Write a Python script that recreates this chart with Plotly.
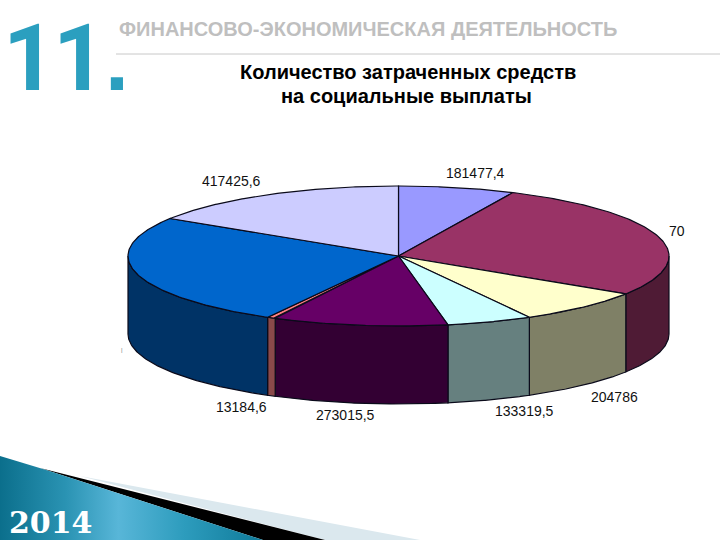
import numpy as np
import plotly.graph_objects as go

# ---- data (values in clockwise order from 12 o'clock)
slice_names = ["a", "b", "c", "d", "e", "f", "g", "h"]
slice_values = [181477.4, 709000.0, 204786.0, 133319.5, 273015.5, 13184.6, 677794.0, 417425.6]
top_colors = ["#9999ff", "#993366", "#ffffcc", "#ccffff", "#660066", "#ff8080", "#0066cc", "#ccccff"]
side_colors = ["#4d4d80", "#4f1b35", "#7f8066", "#66807f", "#330033", "#8a4a4a", "#003366", "#666680"]
label_texts = ["181477,4", "70", "204786", "133319,5", "273015,5", "13184,6", "", "417425,6"]
label_x = [475, 677, 614, 524, 345, 241, 122, 231]
label_y = [173, 231, 397, 411, 415, 407, 350, 181]

title_lines = ["Количество затраченных средств", "на социальные выплаты"]
header = "ФИНАНСОВО-ЭКОНОМИЧЕСКАЯ ДЕЯТЕЛЬНОСТЬ"

CX, CY, RX, RY, DEPTH = 398.5, 256.0, 270.5, 70.0, 78.0


def ex(t):
    return CX + RX * np.sin(np.radians(t))


def ey(t):
    return CY - RY * np.cos(np.radians(t))


fig = go.Figure()

# decorative band, bottom-left
fig.add_trace(go.Scatter(x=[80, 420, 325], y=[476, 540, 540], fill="toself", fillcolor="#dbe8ee",
                         mode="lines", line=dict(width=0), hoverinfo="skip", showlegend=False))
fig.add_trace(go.Scatter(x=[40, 325, 263], y=[468, 540, 540], fill="toself", fillcolor="#000000",
                         mode="lines", line=dict(width=0), hoverinfo="skip", showlegend=False))
fig.add_trace(go.Scatter(x=[0, 43, 263, 0], y=[456, 469, 540, 540], fill="toself",
                         mode="lines", line=dict(width=0), hoverinfo="skip", showlegend=False,
                         fillgradient=dict(type="horizontal", colorscale=[
                             [0.0, "#0b6f8c"], [0.25, "#2a93b3"], [0.45, "#58b6d8"],
                             [0.7, "#2d9cbd"], [1.0, "#0f7a99"]])))

angles = np.cumsum([0.0] + [v / sum(slice_values) * 360.0 for v in slice_values])

# outer walls: only the front half (90..270 degrees) can be seen
for i in range(len(slice_values)):
    a0, a1 = max(angles[i], 90.0), min(angles[i + 1], 270.0)
    if a1 <= a0:
        continue
    t = np.linspace(a0, a1, 80)
    xs = np.r_[ex(t), ex(t[::-1]), ex(t[0])]
    ys = np.r_[ey(t), ey(t[::-1]) + DEPTH, ey(t[0])]
    fig.add_trace(go.Scatter(x=xs, y=ys, fill="toself", fillcolor=side_colors[i], mode="lines",
                             line=dict(color="#0a0a1a", width=1.2), hoverinfo="skip",
                             showlegend=False, name=slice_names[i]))

# top faces
for i in range(len(slice_values)):
    t = np.linspace(angles[i], angles[i + 1], 120)
    xs = np.r_[CX, ex(t), CX]
    ys = np.r_[CY, ey(t), CY]
    fig.add_trace(go.Scatter(x=xs, y=ys, fill="toself", fillcolor=top_colors[i], mode="lines",
                             line=dict(color="#0a0a1a", width=1.2), hoverinfo="skip",
                             showlegend=False, name=slice_names[i]))

ann = []
SANS = "Liberation Sans"


def text(x, y, s, size, color, font=SANS, anchor="center"):
    ann.append(dict(x=x, y=y, text=s, showarrow=False, xref="x", yref="y", xanchor=anchor,
                    yanchor="middle", font=dict(family=font, size=size, color=color)))


for s, x, y in zip(label_texts, label_x, label_y):
    if s:
        text(x, y, s, 14, "#111111")
text(122, 350, "|", 6, "#777777")

text(29, 58, "<b>1</b>", 92, "#2b9fbf", font="Roboto")
text(79, 58, "<b>1</b>", 92, "#2b9fbf", font="Roboto")
text(117, 60, "<b>.</b>", 86, "#2b9fbf")
text(117, 29, "<b>%s</b>" % header, 20, "#bfbfbf", anchor="left")
text(408, 72, "<b>%s</b>" % title_lines[0], 20, "#000000")
text(406, 96, "<b>%s</b>" % title_lines[1], 20, "#000000")
text(7, 522.5, "<b>2014</b>", 30, "#ffffff", font="DejaVu Serif", anchor="left")

fig.update_layout(
    width=720, height=540, margin=dict(l=0, r=0, t=0, b=0),
    paper_bgcolor="#ffffff", plot_bgcolor="#ffffff", annotations=ann, showlegend=False,
    xaxis=dict(range=[0, 720], visible=False, fixedrange=True),
    yaxis=dict(range=[540, 0], visible=False, fixedrange=True),
    shapes=[dict(type="line", xref="x", yref="y", x0=116, x1=720, y0=54, y1=54,
                 line=dict(color="#c8c8c8", width=1))],
)

fig.write_html("out.html", config=dict(displayModeBar=False),
               post_script="document.body.style.margin='0';document.body.style.overflow='hidden';")
